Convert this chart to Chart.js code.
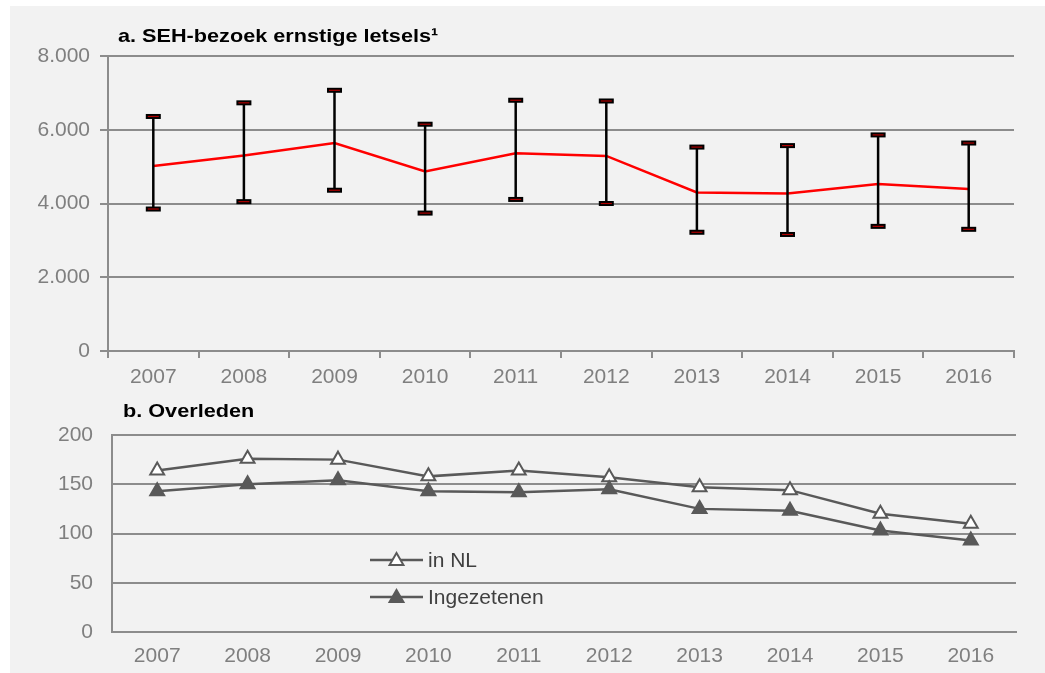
<!DOCTYPE html>
<html>
<head>
<meta charset="utf-8">
<script src="https://cdn.jsdelivr.net/npm/chart.js@4.4.1/dist/chart.umd.min.js"></script>
<style>
  body { margin: 0; background: #fff; overflow: hidden; }
  #panel { position: absolute; left: 10px; top: 6px; width: 1035px; height: 667px; background: #f2f2f2; }
  .wrap { position: absolute; left: 0; width: 1045px; }
  #top-wrap { top: 0; height: 395px; }
  #bottom-wrap { top: 395px; height: 278px; }
  .title {
    position: absolute; white-space: nowrap; color: #000;
    font: bold 19px/22px "Liberation Sans", Arial, sans-serif;
    transform: scaleX(1.14); transform-origin: left center;
  }
</style>
</head>
<body>
<div id="panel"></div>
<div class="wrap" id="top-wrap"><canvas id="seh" width="1045" height="395"></canvas></div>
<div class="wrap" id="bottom-wrap"><canvas id="deaths" width="1045" height="278"></canvas></div>
<div class="title" style="left:118px; top:25px;">a. SEH-bezoek ernstige letsels¹</div>
<div class="title" style="left:123px; top:400px;">b. Overleden</div>

<script>
// years on both x axes
const years = ['2007', '2008', '2009', '2010', '2011', '2012', '2013', '2014', '2015', '2016'];

// SEH visits for serious injuries, with lower/upper bounds
const sehMean  = [5020, 5300, 5640, 4870, 5360, 5290, 4300, 4270, 4530, 4390];
const sehLower = [3850, 4050, 4360, 3740, 4110, 4000, 3220, 3160, 3380, 3300];
const sehUpper = [6360, 6730, 7070, 6150, 6800, 6780, 5530, 5570, 5860, 5640];

// deaths
const deathsInNL      = [164, 176, 175, 158, 164, 157, 147, 144, 120, 110];
const deathsResidents = [143, 150, 154, 143, 142, 145, 125, 123, 103, 93];

const FONT = '"Liberation Sans", Arial, sans-serif';
const GRID = '#8c8c8c';
const TICK = '#7f7f7f';
const DARK = '#595959';

Chart.defaults.font.family = FONT;
Chart.defaults.animation = false;

const fmt = v => String(v).replace(/\B(?=(\d{3})+(?!\d))/g, '.');

// vertical error bars with capped ends
const errorBars = {
  id: 'errorBars',
  afterDatasetsDraw(chart, args, opts) {
    const { ctx, scales: { x, y } } = chart;
    ctx.save();
    opts.lower.forEach((lo, i) => {
      const px = x.getPixelForValue(i);
      const yLo = y.getPixelForValue(lo);
      const yHi = y.getPixelForValue(opts.upper[i]);
      ctx.strokeStyle = '#000';
      ctx.lineWidth = 2.5;
      ctx.beginPath();
      ctx.moveTo(px, yLo);
      ctx.lineTo(px, yHi);
      ctx.stroke();
      [yLo, yHi].forEach(cy => {
        // black cap with a thin red core
        ctx.fillStyle = '#000';
        ctx.fillRect(px - 7.5, cy - 2.5, 15, 5);
        ctx.strokeStyle = '#b00000';
        ctx.lineWidth = 1.2;
        ctx.beginPath();
        ctx.moveTo(px - 5.5, cy);
        ctx.lineTo(px + 5.5, cy);
        ctx.stroke();
      });
    });
    ctx.restore();
  }
};

// legend rows drawn inside the plot area
const insetLegend = {
  id: 'insetLegend',
  afterDraw(chart, args, opts) {
    const { ctx } = chart;
    ctx.save();
    opts.order.forEach((di, row) => {
      const ds = chart.data.datasets[di];
      const cy = opts.y + row * opts.rowGap;
      ctx.strokeStyle = ds.borderColor;
      ctx.lineWidth = ds.borderWidth;
      ctx.beginPath();
      ctx.moveTo(opts.x, cy);
      ctx.lineTo(opts.x + opts.lineLen, cy);
      ctx.stroke();
      ctx.fillStyle = ds.pointBackgroundColor;
      ctx.strokeStyle = ds.borderColor;
      ctx.lineWidth = ds.pointBorderWidth;
      Chart.helpers.drawPoint(ctx, { pointStyle: ds.pointStyle, radius: 8, borderWidth: ds.pointBorderWidth },
        opts.x + opts.lineLen / 2, cy + 1);
      ctx.fillStyle = '#404040';
      ctx.font = '21px ' + FONT;
      ctx.textBaseline = 'middle';
      ctx.fillText(ds.label, opts.x + opts.lineLen + 5, cy + 1);
    });
    ctx.restore();
  }
};

new Chart(document.getElementById('seh'), {
  type: 'line',
  data: {
    labels: years,
    datasets: [{
      label: 'SEH-bezoek',
      data: sehMean,
      borderColor: '#ff0000',
      borderWidth: 2.5,
      pointRadius: 0,
      tension: 0
    }]
  },
  options: {
    responsive: false,
    layout: { padding: { left: 0, top: 56, right: 31, bottom: 0 } },
    plugins: {
      legend: { display: false },
      tooltip: { enabled: false },
      errorBars: { lower: sehLower, upper: sehUpper }
    },
    scales: {
      x: {
        offset: true,
        grid: { offset: true, drawOnChartArea: false, drawTicks: true, tickLength: 7, color: GRID, lineWidth: 2 },
        border: { display: true, color: GRID, width: 2 },
        ticks: { color: TICK, font: { size: 21 }, padding: 7, maxRotation: 0, autoSkip: false },
        afterFit: s => { s.height = 44; }
      },
      y: {
        min: 0, max: 8000,
        grid: { color: GRID, lineWidth: 2, tickLength: 8 },
        border: { display: true, color: GRID, width: 2 },
        ticks: { stepSize: 2000, color: TICK, font: { size: 21 }, padding: 10, callback: fmt },
        afterFit: s => { s.width = 108; }
      }
    }
  },
  plugins: [errorBars]
});

new Chart(document.getElementById('deaths'), {
  type: 'line',
  data: {
    labels: years,
    datasets: [{
      label: 'Ingezetenen',
      data: deathsResidents,
      borderColor: DARK,
      borderWidth: 2.5,
      pointStyle: 'triangle',
      pointRadius: 8,
      pointBackgroundColor: DARK,
      pointBorderColor: DARK,
      pointBorderWidth: 2,
      tension: 0
    }, {
      label: 'in NL',
      data: deathsInNL,
      borderColor: DARK,
      borderWidth: 2.5,
      pointStyle: 'triangle',
      pointRadius: 8,
      pointBackgroundColor: '#ffffff',
      pointBorderColor: DARK,
      pointBorderWidth: 2,
      tension: 0
    }]
  },
  options: {
    responsive: false,
    layout: { padding: { left: 0, top: 40, right: 29, bottom: 0 } },
    plugins: {
      legend: { display: false },
      tooltip: { enabled: false },
      insetLegend: { order: [1, 0], x: 370, y: 165, rowGap: 37, lineLen: 53 }
    },
    scales: {
      x: {
        offset: true,
        grid: { display: false, drawTicks: false },
        border: { display: true, color: GRID, width: 2 },
        ticks: { color: TICK, font: { size: 21 }, padding: 12, maxRotation: 0, autoSkip: false },
        afterFit: s => { s.height = 41; }
      },
      y: {
        min: 0, max: 200,
        grid: { color: GRID, lineWidth: 2, drawTicks: false },
        border: { display: true, color: GRID, width: 2 },
        ticks: { stepSize: 50, color: TICK, font: { size: 21 }, padding: 19 },
        afterFit: s => { s.width = 112; }
      }
    }
  },
  plugins: [insetLegend]
});
</script>
</body>
</html>
